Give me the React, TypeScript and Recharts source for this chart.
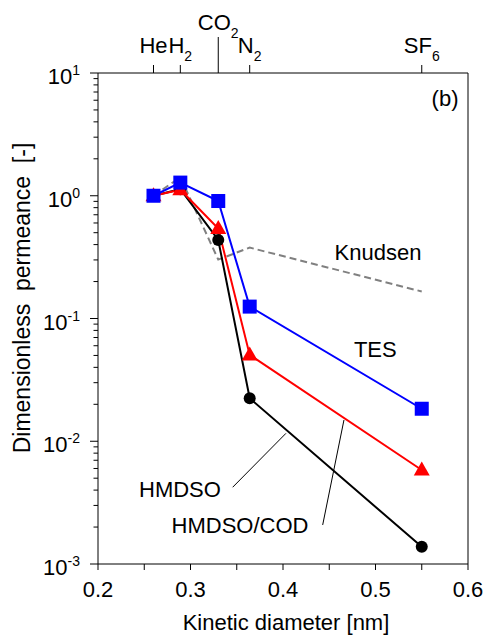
import React from 'react';
import { ComposedChart, Line, XAxis, YAxis, ReferenceLine, ReferenceDot } from 'recharts';

// Kinetic diameters [nm] of the gases
const diameters = [0.26, 0.289, 0.33, 0.364, 0.55];
const gasBase = ['He', 'H', 'CO', 'N', 'SF'];
const gasSub = ['', '2', '2', '2', '6'];

// Dimensionless permeance
const tesValues = [1.0, 1.28, 0.906, 0.125, 0.0184];
const codValues = [1.0, 1.12, 0.54, 0.0505, 0.00583];
const hmdsoValues = [1.0, 1.13, 0.436, 0.0224, 0.00138];
const knudsenValues = [1.0, 1.414, 0.302, 0.378, 0.166];

const xTicks = [0.2, 0.25, 0.3, 0.35, 0.4, 0.45, 0.5, 0.55, 0.6];
const yMajorTicks = [0.001, 0.01, 0.1, 1, 10];
const yMinorMultipliers = [2, 3, 4, 5, 6, 7, 8, 9];

const FONT = '"Liberation Sans", Arial, sans-serif';

const data = diameters.map((d, i) => ({
  x: d,
  tes: tesValues[i],
  cod: codValues[i],
  hmdso: hmdsoValues[i],
  knudsen: knudsenValues[i],
}));

const yTicks: number[] = [];
yMajorTicks.forEach((m, i) => {
  yTicks.push(m);
  if (i < yMajorTicks.length - 1) yMinorMultipliers.forEach((k) => yTicks.push(m * k));
});

const YTick = (props: any) => {
  const { x, y, payload } = props;
  const v = payload.value;
  const lg = Math.log10(v);
  const exp = Math.round(lg);
  const isMajor = Math.abs(lg - exp) < 1e-6;
  return (
    <g>
      <line x1={x - (isMajor ? 8 : 4.5)} x2={x} y1={y} y2={y} stroke="#000" strokeWidth={1} />
      {isMajor && (
        <text x={x - 18} y={y + 11} textAnchor="end" fontFamily={FONT} fontSize={22} fill="#000">
          10
          <tspan dy={-9} fontSize={14}>{String(exp)}</tspan>
        </text>
      )}
    </g>
  );
};

const BottomTick = (props: any) => {
  const { x, y, payload } = props;
  const v = payload.value;
  const isMajor = Math.abs(v * 10 - Math.round(v * 10)) < 1e-6;
  return (
    <g>
      <line x1={x} x2={x} y1={y} y2={y + 6} stroke="#000" strokeWidth={1} />
      {isMajor && (
        <text x={x} y={y + 33} textAnchor="middle" fontFamily={FONT} fontSize={22} fill="#000">
          {v.toFixed(1)}
        </text>
      )}
    </g>
  );
};

const TopTick = (props: any) => {
  const { x, y, payload } = props;
  const idx = diameters.findIndex((d) => Math.abs(d - payload.value) < 1e-9);
  const isLong = gasBase[idx] === 'CO';
  const len = isLong ? 36 : 8;
  return (
    <g>
      <line x1={x} x2={x} y1={y} y2={y - len} stroke="#000" strokeWidth={1} />
      <text x={x} y={y - len - (isLong ? 7.5 : 12)} textAnchor="middle" fontFamily={FONT} fontSize={22} fill="#000">
        {gasBase[idx]}
        {gasSub[idx] && <tspan dy={8} fontSize={14}>{gasSub[idx]}</tspan>}
      </text>
    </g>
  );
};

const SquareDot = (props: any) => {
  const { cx, cy, index } = props;
  return <rect key={`sq-${index}`} x={cx - 7} y={cy - 7} width={14} height={14} fill="#0000ff" />;
};

const TriangleDot = (props: any) => {
  const { cx, cy, index } = props;
  const pts = `${cx},${cy - 8.5} ${cx + 8},${cy + 5.5} ${cx - 8},${cy + 5.5}`;
  return <polygon key={`tr-${index}`} points={pts} fill="#ff0000" />;
};

const YTitle = () => (
  <text
    x={30}
    y={298}
    transform="rotate(-90, 30, 298)"
    textAnchor="middle"
    fontFamily={FONT}
    fontSize={23}
    fill="#000"
    style={{ whiteSpace: 'pre' }}
  >
    {'Dimensionless  permeance  [-]'}
  </text>
);

const XTitle = () => (
  <text x={286} y={630} textAnchor="middle" fontFamily={FONT} fontSize={22} fill="#000">
    Kinetic diameter [nm]
  </text>
);

const AnnText = (props: any) => {
  const { viewBox, text, anchor } = props;
  const cx = viewBox.x + (viewBox.width || 0) / 2;
  const cy = viewBox.y + (viewBox.height || 0) / 2;
  return (
    <text x={cx} y={cy} textAnchor={anchor || 'middle'} fontFamily={FONT} fontSize={22} fill="#000">
      {text}
    </text>
  );
};

const annotations = [
  { text: 'Knudsen', x: 0.5027, y: 0.30, anchor: 'middle' },
  { text: 'TES', x: 0.4998, y: 0.0483, anchor: 'middle' },
  { text: 'HMDSO', x: 0.2886, y: 0.00353, anchor: 'middle' },
  { text: 'HMDSO/COD', x: 0.3535, y: 0.0018, anchor: 'middle' },
  { text: '(b)', x: 0.5897, y: 5.38, anchor: 'end' },
];

const pointers = [
  [{ x: 0.3456, y: 0.00422 }, { x: 0.4032, y: 0.0116 }],
  [{ x: 0.4429, y: 0.00208 }, { x: 0.4659, y: 0.0149 }],
];

export default function App() {
  return (
    <div style={{ position: 'absolute', left: 0, top: 0, width: 485, height: 638, background: '#fff' }}>
      <ComposedChart width={485} height={638} data={data} margin={{ top: 0, right: 17, bottom: 0, left: 0 }}>
        <XAxis
          dataKey="x"
          type="number"
          domain={[0.2, 0.6]}
          ticks={xTicks}
          interval={0}
          height={74}
          tickSize={0}
          tickMargin={0}
          tickLine={false}
          tick={<BottomTick />}
          axisLine={{ stroke: '#000', strokeWidth: 1 }}
          allowDataOverflow
          label={<XTitle />}
        />
        <XAxis
          xAxisId="top"
          dataKey="x"
          orientation="top"
          type="number"
          domain={[0.2, 0.6]}
          ticks={diameters}
          interval={0}
          height={73}
          tickSize={0}
          tickMargin={0}
          tickLine={false}
          tick={<TopTick />}
          axisLine={{ stroke: '#000', strokeWidth: 1 }}
          allowDataOverflow
        />
        <YAxis
          type="number"
          scale="log"
          domain={[0.001, 10]}
          ticks={yTicks}
          interval={0}
          width={98}
          tickSize={0}
          tickMargin={0}
          tickLine={false}
          tick={<YTick />}
          axisLine={{ stroke: '#000', strokeWidth: 1 }}
          allowDataOverflow
          label={<YTitle />}
        />
        <ReferenceLine x={0.6} stroke="#000" strokeWidth={1} ifOverflow="visible" />
        <Line
          dataKey="knudsen"
          stroke="#808080"
          strokeWidth={2}
          strokeDasharray="7 4"
          dot={false}
          isAnimationActive={false}
        />
        <Line
          dataKey="hmdso"
          stroke="#000000"
          strokeWidth={2}
          dot={{ r: 6, fill: '#000', stroke: '#000', strokeWidth: 0 }}
          isAnimationActive={false}
        />
        <Line dataKey="cod" stroke="#ff0000" strokeWidth={2} dot={<TriangleDot />} isAnimationActive={false} />
        <Line dataKey="tes" stroke="#0000ff" strokeWidth={2} dot={<SquareDot />} isAnimationActive={false} />
        {pointers.map((seg, i) => (
          <ReferenceLine key={`p-${i}`} segment={seg} stroke="#000" strokeWidth={1} ifOverflow="visible" />
        ))}
        {annotations.map((a, i) => (
          <ReferenceDot
            key={`a-${i}`}
            x={a.x}
            y={a.y}
            r={0}
            fill="none"
            stroke="none"
            label={<AnnText text={a.text} anchor={a.anchor} />}
          />
        ))}
      </ComposedChart>
    </div>
  );
}
